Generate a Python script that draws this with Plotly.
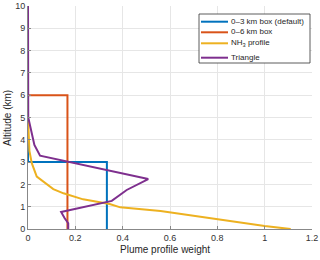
import plotly.graph_objects as go

box3_x = [0.3333, 0.3333, 0, 0]
box3_y = [0, 3, 3, 10]
box6_x = [0.1667, 0.1667, 0, 0]
box6_y = [0, 6, 6, 10]
nh3_x = [1.11, 1.0, 0.56, 0.39, 0.345, 0.233, 0.15, 0.107, 0.037, 0.016, 0.006, 0.002, 0, 0]
nh3_y = [0, 0.13, 0.81, 0.97, 1.12, 1.33, 1.6, 1.79, 2.35, 2.95, 3.5, 4.5, 5, 10]
tri_x = [0.17, 0.17, 0.155, 0.14, 0.354, 0.417, 0.508, 0.051, 0.027, 0.008, 0.001, 0]
tri_y = [0, 0.26, 0.48, 0.76, 1.26, 1.75, 2.24, 3.29, 3.77, 4.6, 5, 10]

names = ["0–3 km box (default)", "0–6 km box", "NH<sub>3</sub> profile", "Triangle"]
colors = ["#0072BD", "#D95319", "#EDB120", "#7E2F8E"]

W, H = 320, 260
L, R, T, B = 28, 8, 6, 31
PW, PH = W - L - R, H - T - B

def px(x):
    return (x - L) / PW

def py(y):
    return (H - B - y) / PH

fig = go.Figure()
for xs, ys, n, c in zip([box3_x, box6_x, nh3_x, tri_x], [box3_y, box6_y, nh3_y, tri_y], names, colors):
    fig.add_trace(go.Scatter(x=xs, y=ys, mode="lines", name=n,
                             line=dict(color=c, width=2), showlegend=False))

# manual compact legend (MATLAB style)
shapes = [dict(type="rect", xref="paper", yref="paper",
               x0=px(199), x1=px(310), y0=py(63), y1=py(14),
               line=dict(color="#333", width=0.8), fillcolor="white", layer="above")]
annots = []
entry_y = [21.7, 32.3, 43.3, 57.7]
for n, c, ey in zip(names, colors, entry_y):
    shapes.append(dict(type="line", xref="paper", yref="paper",
                       x0=px(201), x1=px(228), y0=py(ey), y1=py(ey),
                       line=dict(color=c, width=2), layer="above"))
    annots.append(dict(xref="paper", yref="paper", x=px(229), y=py(ey - 0.5),
                       text=n, showarrow=False, xanchor="left", yanchor="middle",
                       font=dict(size=8, color="#262626")))

annots.append(dict(xref="paper", yref="paper", x=px(165), y=py(249),
                   text="Plume profile weight", showarrow=False,
                   xanchor="center", yanchor="middle", font=dict(size=10, color="#262626")))
annots.append(dict(xref="paper", yref="paper", x=px(7), y=py(118),
                   text="Altitude (km)", showarrow=False, textangle=-90,
                   xanchor="center", yanchor="middle", font=dict(size=10, color="#262626")))

fig.update_layout(
    width=W, height=H,
    margin=dict(l=L, r=R, t=T, b=B),
    paper_bgcolor="white", plot_bgcolor="white",
    font=dict(family="Liberation Sans, Arial", size=9, color="#333333"),
    showlegend=False,
    shapes=shapes, annotations=annots,
)
fig.update_xaxes(range=[0, 1.2], dtick=0.2, tickformat="~g",
                 showgrid=True, gridcolor="#e6e6e6", gridwidth=1,
                 showline=True, linecolor="#888", linewidth=1,
                 ticks="inside", ticklen=3, tickcolor="#888",
                 zeroline=False, automargin=False, tickfont=dict(size=9))
fig.update_yaxes(range=[0, 10], dtick=1,
                 showgrid=True, gridcolor="#e6e6e6", gridwidth=1,
                 showline=True, linecolor="#888", linewidth=1,
                 ticks="inside", ticklen=3, tickcolor="#888",
                 zeroline=False, automargin=False, tickfont=dict(size=9))

fig.write_html("out.html", config={"displayModeBar": False, "staticPlot": True},
               post_script="document.body.style.margin='0';document.body.style.padding='0';document.body.style.overflow='hidden';")
